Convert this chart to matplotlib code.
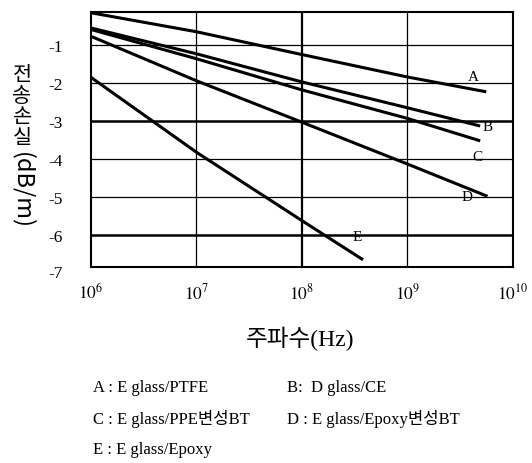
import numpy as np
import matplotlib
matplotlib.use("Agg")
import matplotlib.pyplot as plt

plt.rcParams["font.family"] = ["Liberation Serif", "Noto Sans CJK KR"]
plt.rcParams["mathtext.fontset"] = "stix"

# transmission loss (dB/m)
freq_a = [1e6, 1e7, 1e8, 1e9, 5.6e9]
loss_a = [-0.16, -0.66, -1.26, -1.85, -2.24]
freq_b = [1e6, 1e7, 1e8, 1e9, 4.9e9]
loss_b = [-0.56, -1.24, -1.98, -2.66, -3.14]
freq_c = [1e6, 1e7, 1e8, 1e9, 4.9e9]
loss_c = [-0.60, -1.37, -2.19, -2.94, -3.53]
freq_d = [1e6, 1e7, 1e8, 1e9, 5.75e9]
loss_d = [-0.78, -1.95, -3.04, -4.14, -4.99]
freq_e = [1e6, 1e7, 1e8, 3.8e8]
loss_e = [-1.86, -3.83, -5.63, -6.66]

curve_names = ["A", "B", "C", "D", "E"]
y_ticks = [-1, -2, -3, -4, -5, -6, -7]
x_ticks = [1e6, 1e7, 1e8, 1e9, 1e10]
x_tick_labels = [r"$10^{6}$", r"$10^{7}$", r"$10^{8}$", r"$10^{9}$", r"$10^{10}$"]
ylabel_hangul = "전송손실"
ylabel_unit = "(dB/m)"
xlabel = "주파수(Hz)"
legend_lines = [
    ("A : E glass/PTFE", "B:  D glass/CE"),
    ("C : E glass/PPE변성BT", "D : E glass/Epoxy변성BT"),
    ("E : E glass/Epoxy", ""),
]

W, H = 532, 464
fig = plt.figure(figsize=(W / 100, H / 100), dpi=100)
ax = fig.add_axes([0.171, 0.4224, 0.793, 0.5496])
ax.set_xscale("log")
ax.set_xlim(1e6, 1e10)
ylo, yhi = -6.85, -0.14
ax.set_ylim(ylo, yhi)

# grid: a couple of the scanned lines are heavier than the rest
heavy = {-3, -6}
for v in y_ticks:
    if v > ylo:
        ax.axhline(v, color="black", lw=1.8 if v in heavy else 0.9, zorder=1)
for f in x_ticks[1:-1]:
    ax.axvline(f, color="black", lw=1.6 if f == 1e8 else 0.9, zorder=1)

series = [(freq_a, loss_a), (freq_b, loss_b), (freq_c, loss_c),
          (freq_d, loss_d), (freq_e, loss_e)]
label_offsets = {"A": (-9, 11), "B": (5, 0), "C": (-2, -11), "D": (-15, 0), "E": (-4, 17)}
for name, (f, l) in zip(curve_names, series):
    ax.plot(f, l, color="black", lw=2.2, solid_capstyle="butt", zorder=3)
    ax.annotate(name, xy=(f[-1], l[-1]), xytext=label_offsets[name],
                textcoords="offset points", ha="center", va="center",
                fontsize=11, zorder=4)

for s in ax.spines.values():
    s.set_linewidth(1.5)

ax.set_xticks(x_ticks)
ax.set_xticklabels(x_tick_labels)
ax.xaxis.set_minor_locator(matplotlib.ticker.NullLocator())
inside = [v for v in y_ticks if v > ylo]
ax.set_yticks(inside)
ax.set_yticklabels([str(v) for v in inside])
ax.tick_params(axis="both", length=0, labelsize=12.5)
ax.tick_params(axis="y", pad=20)
ax.tick_params(axis="x", pad=11)
# the scan prints -7 just below the frame
for v in y_ticks:
    if v <= ylo:
        ax.annotate(str(v), xy=(0, v), xycoords=ax.get_yaxis_transform(),
                    xytext=(-20, 0), textcoords="offset points",
                    ha="right", va="center", fontsize=12.5, annotation_clip=False)

# vertical Korean axis title: upright hangul stacked, unit turned clockwise
for i, ch in enumerate(ylabel_hangul):
    fig.text(22 / W, 1 - (75 + 21 * i) / H, ch, ha="center", va="center",
             fontsize=15, family="Noto Sans CJK KR")
fig.text(22 / W, 1 - 152 / H, ylabel_unit, rotation=270, ha="center", va="top",
         fontsize=17, family="Noto Sans CJK KR")

fig.text(300 / W, 1 - 339 / H, xlabel, ha="center", va="center", fontsize=17)

for row, (left, right) in enumerate(legend_lines):
    y = 1 - (388 + row * 31) / H
    fig.text(93 / W, y, left, ha="left", va="center", fontsize=12)
    if right:
        fig.text(287 / W, y, right, ha="left", va="center", fontsize=12)

fig.savefig("out.png", dpi=100)
